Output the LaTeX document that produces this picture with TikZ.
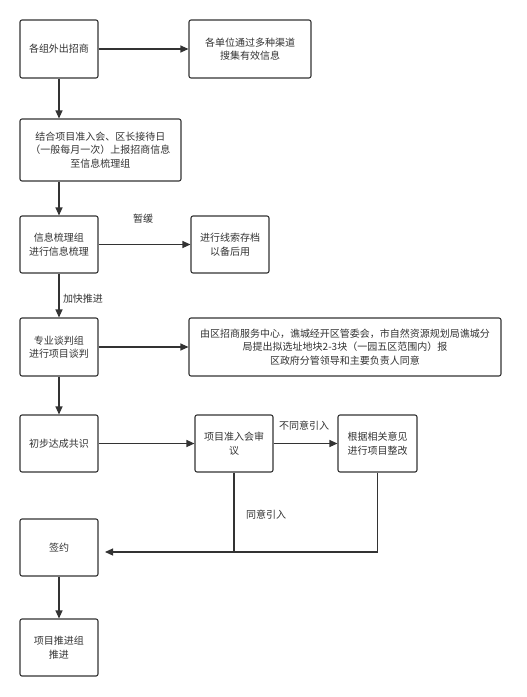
\documentclass[tikz,border=0pt]{standalone}
\usepackage{fontspec}
\setmainfont{Noto Sans CJK SC}
\usetikzlibrary{arrows.meta}
\definecolor{ink}{HTML}{333333}
\definecolor{txt}{HTML}{333333}
\tikzset{
  box/.style={draw=ink, line width=1.1pt, rounded corners=2pt, fill=white,
    align=center, text=txt, font=\fontsize{10pt}{13.5pt}\selectfont, inner sep=2pt},
  lbl/.style={text=txt, font=\fontsize{10pt}{13.5pt}\selectfont, inner sep=1pt},
  conn/.style={draw=ink, line width=1.1pt},
  arr/.style={conn, -{Triangle[length=8pt,width=7pt]}}
}
\begin{document}
\begin{tikzpicture}[x=1pt,y=-1pt]
\useasboundingbox[fill=white] (0,0) rectangle (527,697);
\node[box, minimum width=78pt, minimum height=58pt] (b1) at (59,49) {各组外出招商};
\node[box, minimum width=122pt, minimum height=58pt] (b2) at (250,49) {各单位通过多种渠道\\搜集有效信息};
\node[box, minimum width=161pt, minimum height=62pt] (b3) at (100.5,150) {结合项目准入会、区长接待日\\（一般每月一次）上报招商信息\\至信息梳理组};
\node[box, minimum width=78pt, minimum height=57pt] (b4) at (59,244.5) {信息梳理组\\进行信息梳理};
\node[box, minimum width=78pt, minimum height=57pt] (b5) at (230,244.5) {进行线索存档\\以备后用};
\node[box, minimum width=78pt, minimum height=58pt] (b6) at (59,347) {专业谈判组\\进行项目谈判};
\node[box, minimum width=312pt, minimum height=58pt] (b7) at (345,347) {由区招商服务中心，谯城经开区管委会，市自然资源规划局谯城分\\局提出拟选址地块2-3块（一园五区范围内）报\\区政府分管领导和主要负责人同意};
\node[box, minimum width=78pt, minimum height=57pt] (b8) at (59,443.5) {初步达成共识};
\node[box, minimum width=78pt, minimum height=57pt] (b9) at (234,443.5) {项目准入会审\\议};
\node[box, minimum width=79pt, minimum height=57pt] (b10) at (377.5,443.5) {根据相关意见\\进行项目整改};
\node[box, minimum width=78pt, minimum height=57pt] (b11) at (59,547.5) {签约};
\node[box, minimum width=78pt, minimum height=57pt] (b12) at (59,647.5) {项目推进组\\推进};

\node[lbl] (l1) at (143,219) {暂缓};
\node[lbl] (l2) at (83,299) {加快推进};
\node[lbl] (l3) at (304,426) {不同意引入};
\node[lbl] (l4) at (266,515) {同意引入};

\coordinate (j) at (234,552);
\coordinate (tip) at (105,552);

\draw[arr] (b1) -- (b2);
\draw[arr] (b1) -- (b1 |- b3.north);
\draw[arr] (b3.south -| b4) -- (b4);
\draw[arr] (b4) -- (b5);
\draw[arr] (b4) -- (b6);
\draw[arr] (b6) -- (b7);
\draw[arr] (b6) -- (b8);
\draw[arr] (b8) -- (b9);
\draw[arr] (b9) -- (b10);
\draw[conn] (b10.south) |- (j);
\draw[arr] (b9.south) -- (j) -- (tip);
\draw[arr] (b11) -- (b12);
\end{tikzpicture}
\end{document}
